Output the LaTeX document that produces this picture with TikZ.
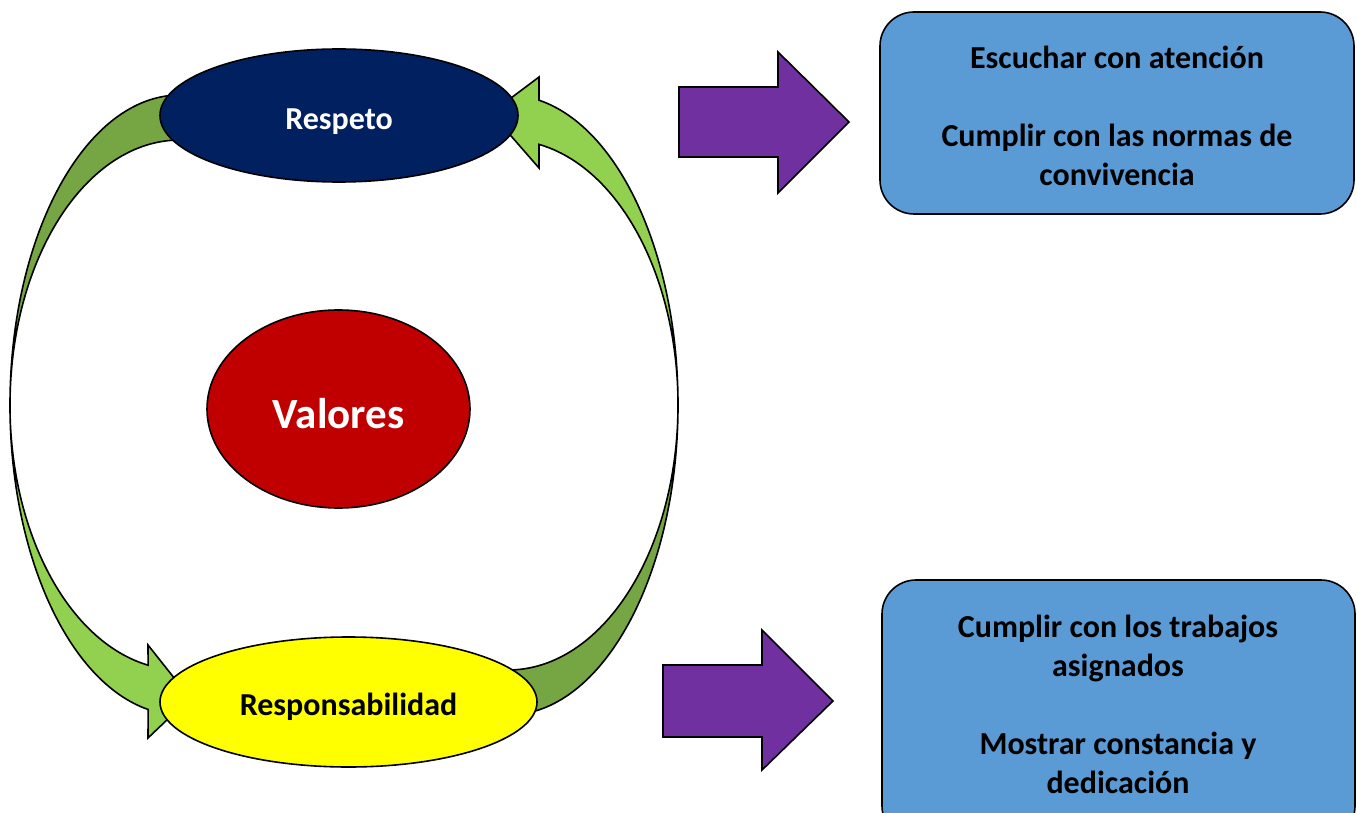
\documentclass[tikz,border=0pt]{standalone}
\usepackage{fontspec}
\setmainfont{Carlito}
\usetikzlibrary{shapes.geometric}
\definecolor{navy}{RGB}{0,32,96}
\definecolor{valred}{RGB}{192,0,0}
\definecolor{purp}{RGB}{112,48,160}
\definecolor{boxblue}{RGB}{91,155,213}
\definecolor{gdark}{RGB}{118,165,68}
\definecolor{glight}{RGB}{146,208,80}
\definecolor{yel}{RGB}{255,255,0}
\tikzset{
  outl/.style={draw=black, line width=1.6pt, line join=miter},
  oval/.style={ellipse, outl, inner sep=0pt, text depth=0pt},
  txt/.style={font=\fontsize{32}{39}\selectfont\bfseries},
  infobox/.style={outl, rounded corners=34pt},
}
\begin{document}
\begin{tikzpicture}[x=1pt,y=-1pt]
\useasboundingbox (0,0) rectangle (1357,813);
\fill[white] (0,0) rectangle (1357,813);

% left curved arrow (Respeto -> Responsabilidad)
\draw[outl, fill=gdark] (180,95) arc[start angle=90, end angle=180, x radius=170pt, y radius=310pt]
  arc[start angle=180, end angle=90, x radius=170pt, y radius=265pt] -- cycle;
\draw[outl, fill=glight] (10,405) arc[start angle=180, end angle=259.2, x radius=170pt, y radius=310pt]
  -- (148,738) -- (190,698) -- (148,645) -- (148.1,665.2)
  arc[start angle=259.2, end angle=180, x radius=170pt, y radius=265pt] -- cycle;

% right curved arrow (Responsabilidad -> Respeto)
\draw[outl, fill=gdark] (678,405) arc[start angle=0, end angle=-90, x radius=170pt, y radius=310pt]
  -- (508,670) arc[start angle=-90, end angle=0, x radius=170pt, y radius=265pt] -- cycle;
\draw[outl, fill=glight] (678,405) arc[start angle=0, end angle=79.5, x radius=170pt, y radius=310pt]
  -- (539,77) -- (491,113) -- (539,168) -- (539,144.4)
  arc[start angle=79.5, end angle=0, x radius=170pt, y radius=265pt] -- cycle;

% ellipses
\node[oval, fill=navy, minimum width=358pt, minimum height=133pt, txt, text=white, text height=29pt] (respeto) at (339,115.5) {Respeto};
\node[oval, fill=valred, minimum width=263pt, minimum height=198pt, font=\fontsize{43}{50}\selectfont\bfseries, text=white, text height=38pt] (valores) at (338.5,409) {Valores};
\node[oval, fill=yel, minimum width=377pt, minimum height=130pt, txt, text=black, text height=26pt] (resp) at (348.5,702) {Responsabilidad};

% purple arrows
\draw[outl, fill=purp] (679,87) -- (778,87) -- (778,52) -- (849,122) -- (778,193) -- (778,157) -- (679,157) -- cycle;
\draw[outl, fill=purp] (663,665) -- (762,665) -- (762,630) -- (833,701) -- (762,770) -- (762,737) -- (663,737) -- cycle;

% boxes
\draw[infobox, fill=boxblue] (880,12) rectangle (1354,214);
\node[txt, align=center] (t1) at (1117,116) {Escuchar con atención\\[39pt]Cumplir con las normas de\\convivencia};
\draw[infobox, fill=boxblue] (882,580) rectangle (1355,840);
\node[txt, align=center] (t2) at (1118,704) {Cumplir con los trabajos\\asignados\\[39pt]Mostrar constancia y\\dedicación};
\end{tikzpicture}
\end{document}
